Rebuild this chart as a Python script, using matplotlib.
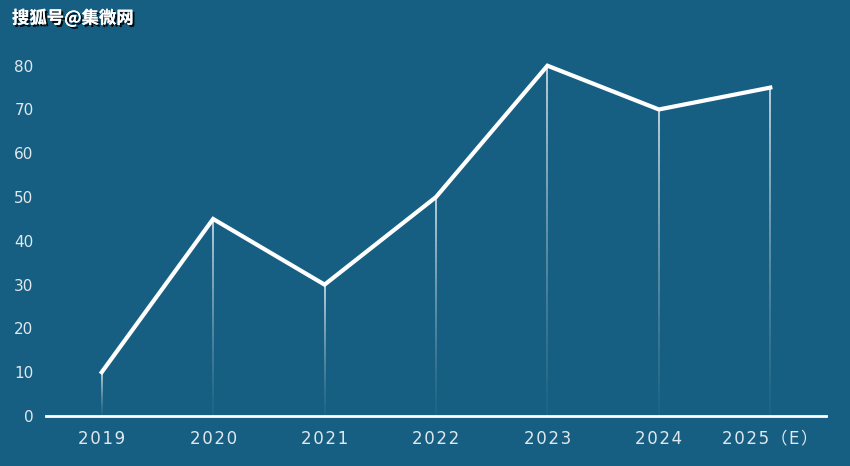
import numpy as np
import matplotlib
matplotlib.use("Agg")
from matplotlib import pyplot as plt
from matplotlib.collections import LineCollection
import matplotlib.patheffects as pe

years = ["2019", "2020", "2021", "2022", "2023", "2024", "2025（E）"]
values = [10, 45, 30, 50, 80, 70, 75]

bg = "#175f82"
txt = "#dfe8ee"

plt.rcParams['font.family'] = ['DejaVu Sans', 'Noto Sans CJK SC']

fig = plt.figure(figsize=(8.5, 4.66), dpi=100, facecolor=bg)
ax = fig.add_axes([46 / 850, 50 / 466, 780 / 850, 416 / 466], facecolor=bg)

x = np.arange(len(years))

# fading drop lines from each point down to the axis
segs = []
cols = []
n = 40
for xi, v in zip(x, values):
    ys = np.linspace(0, v, n + 1)
    for k in range(n):
        segs.append([(xi, ys[k]), (xi, ys[k + 1])])
        a = (k + 0.5) / n
        cols.append((1, 1, 1, 0.04 + 0.86 * a ** 1.3))
ax.add_collection(LineCollection(segs, colors=cols, linewidths=1.1, zorder=2))

ax.plot(x, values, color="white", lw=3.0, solid_joinstyle="miter", zorder=3)

# letter-spaced category labels
spaced = ["\u200a".join(y) for y in years]

ax.set_xlim(-0.5, 6.5)
ax.set_ylim(0, 95)
ax.set_yticks(range(0, 90, 10))
ax.set_xticks(x)
ax.set_xticklabels(spaced, family=['DejaVu Sans', 'Noto Sans CJK SC'])
ax.tick_params(axis="x", length=0, pad=10, colors=txt, labelsize=12)
ax.tick_params(axis="y", length=0, pad=9, colors=txt, labelsize=11)

for s in ["top", "right", "left"]:
    ax.spines[s].set_visible(False)
ax.spines["bottom"].set_color("white")
ax.spines["bottom"].set_linewidth(2)

fig.text(12 / 850, 1 - 18 / 466, "搜狐号@集微网", color="white", fontsize=12.5,
         fontweight="bold", va="center", ha="left", family=['Noto Sans CJK SC'],
         path_effects=[pe.withSimplePatchShadow(offset=(1.5, -1.5), shadow_rgbFace="black", alpha=0.9), pe.Normal()],
         zorder=10)

fig.savefig("out.png", dpi=100, facecolor=bg)
